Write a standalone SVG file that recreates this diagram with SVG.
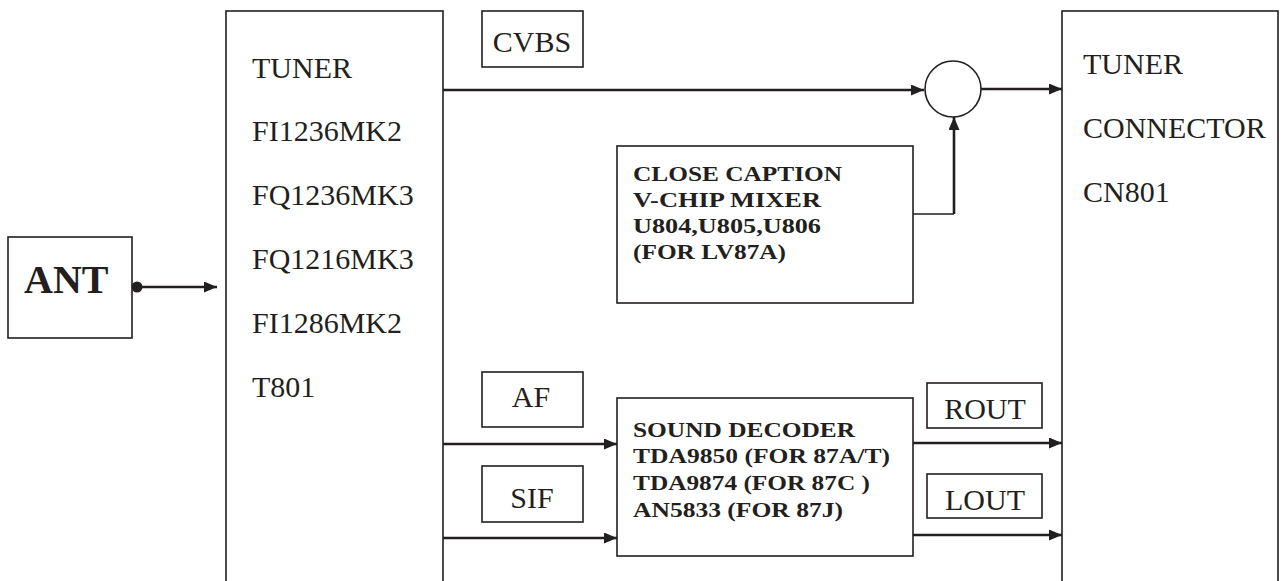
<svg xmlns="http://www.w3.org/2000/svg" width="1281" height="581" viewBox="0 0 1281 581">
<style>
.box{fill:none;stroke:#231f20;stroke-width:1.6}
.wire{fill:none;stroke:#231f20;stroke-width:2.6}
.t{font-family:"Liberation Serif","Times New Roman",serif;font-size:30px;fill:#231f20}
.b{font-family:"Liberation Serif","Times New Roman",serif;font-size:20px;font-weight:bold;fill:#231f20}
.c{text-anchor:middle}
</style>
<defs>
<marker id="ah" markerUnits="userSpaceOnUse" markerWidth="14" markerHeight="12" refX="13" refY="5.5" orient="auto">
<path d="M0,0 L13,5.5 L0,11 z" fill="#231f20"/>
</marker>
</defs>
<rect width="1281" height="581" fill="#fff"/>
<g id="ant">
<rect class="box" x="8" y="237" width="124" height="101"/>
<text class="t" x="24" y="293" style="font-size:40px;font-weight:bold">ANT</text>
</g>
<g id="tuner">
<rect class="box" x="226" y="11" width="217" height="600"/>
<text class="t" x="252" y="78">TUNER</text>
<text class="t" x="252" y="141">FI1236MK2</text>
<text class="t" x="252" y="205">FQ1236MK3</text>
<text class="t" x="252" y="269">FQ1216MK3</text>
<text class="t" x="252" y="333">FI1286MK2</text>
<text class="t" x="252" y="397">T801</text>
</g>
<g id="cvbs">
<rect class="box" x="482" y="11" width="101" height="56"/>
<text class="t c" x="532" y="52">CVBS</text>
</g>
<g id="mixer">
<circle class="box" cx="953" cy="89" r="28"/>
</g>
<g id="closecaption">
<rect class="box" x="617" y="146" width="296" height="157"/>
<text class="b" x="633" y="181" textLength="209" lengthAdjust="spacingAndGlyphs">CLOSE CAPTION</text>
<text class="b" x="633" y="207" textLength="188" lengthAdjust="spacingAndGlyphs">V-CHIP  MIXER</text>
<text class="b" x="633" y="233" textLength="188" lengthAdjust="spacingAndGlyphs">U804,U805,U806</text>
<text class="b" x="633" y="259" textLength="153" lengthAdjust="spacingAndGlyphs">(FOR LV87A)</text>
</g>
<g id="connector">
<rect class="box" x="1062" y="11" width="216" height="600"/>
<text class="t" x="1083" y="74">TUNER</text>
<text class="t" x="1083" y="138">CONNECTOR</text>
<text class="t" x="1083" y="202">CN801</text>
</g>
<g id="af">
<rect class="box" x="482" y="372" width="101" height="55"/>
<text class="t c" x="531" y="407">AF</text>
</g>
<g id="sif">
<rect class="box" x="482" y="466" width="101" height="56"/>
<text class="t c" x="532" y="508">SIF</text>
</g>
<g id="sounddecoder">
<rect class="box" x="617" y="398" width="296" height="158"/>
<text class="b" x="633" y="437" textLength="222" lengthAdjust="spacingAndGlyphs">SOUND DECODER</text>
<text class="b" x="633" y="463" textLength="257" lengthAdjust="spacingAndGlyphs">TDA9850 (FOR 87A/T)</text>
<text class="b" x="633" y="490" textLength="237" lengthAdjust="spacingAndGlyphs">TDA9874 (FOR 87C )</text>
<text class="b" x="633" y="517" textLength="210" lengthAdjust="spacingAndGlyphs">AN5833 (FOR 87J)</text>
</g>
<g id="rout">
<rect class="box" x="927" y="383" width="115" height="45"/>
<text class="t c" x="985" y="419">ROUT</text>
</g>
<g id="lout">
<rect class="box" x="927" y="474" width="115" height="44"/>
<text class="t c" x="985" y="510">LOUT</text>
</g>
<g id="connectors">
<circle cx="137" cy="287" r="5.5" fill="#231f20"/>
<path class="wire" d="M137,287 H217" marker-end="url(#ah)"/>
<path class="wire" d="M443,90 H924" marker-end="url(#ah)"/>
<path class="wire" d="M981,89 H1062" marker-end="url(#ah)"/>
<path class="box" d="M913,214 H954" />
<path class="wire" d="M954,214 V117" marker-end="url(#ah)"/>
<path class="wire" d="M443,444 H617" marker-end="url(#ah)"/>
<path class="wire" d="M443,538 H617" marker-end="url(#ah)"/>
<path class="wire" d="M913,443 H1062" marker-end="url(#ah)"/>
<path class="wire" d="M913,535 H1062" marker-end="url(#ah)"/>
</g>
</svg>
